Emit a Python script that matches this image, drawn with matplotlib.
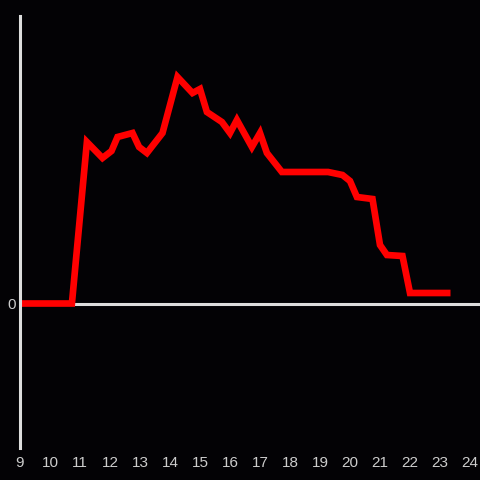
import matplotlib
matplotlib.use("Agg")
import matplotlib.pyplot as plt

plt.rcParams['font.family'] = ['Liberation Sans', 'DejaVu Sans']

# hours of the day and the level at each reading
hours = [9, 10.73, 11.23, 11.75, 12.05, 12.25, 12.75, 12.97, 13.23, 13.75,
         14.25, 14.75, 15.0, 15.23, 15.73, 16.0, 16.23, 16.73, 17.0, 17.23,
         17.73, 19.27, 19.75, 20.0, 20.23, 20.75, 21.0, 21.23, 21.75, 22.0, 23.35]
level = [0, 0, 161.5, 145.5, 152.5, 166.5, 170.5, 156.5, 150.5, 170.5,
         226.5, 210.5, 214.5, 191.5, 181.5, 170.5, 183.5, 156.5, 170.5, 150.5,
         131.5, 131.5, 128.5, 122.5, 106.5, 104.5, 58.5, 48.5, 47.5, 10.5, 10.5]
xticks = list(range(9, 25))

bg = '#030205'
axis_col = '#dddddd'

fig = plt.figure(figsize=(4.8, 4.8), dpi=100, facecolor=bg)
ax = fig.add_axes([20 / 480, 32 / 480, 460 / 480, 432 / 480], facecolor=bg)

ax.axhline(0, color=axis_col, lw=2.2, zorder=1)
ax.plot(hours, level, color='#ff0000', lw=4.8, zorder=2,
        solid_joinstyle='miter', solid_capstyle='butt')

ax.set_xlim(9, 9 + 460 / 30)
ax.set_ylim(-144.5, 287.5)

for s in ['top', 'right', 'bottom']:
    ax.spines[s].set_visible(False)
ax.spines['left'].set_color(axis_col)
ax.spines['left'].set_linewidth(2.2)
ax.spines['left'].set_zorder(3)

ax.set_xticks(xticks)
ax.set_xticklabels([str(t) for t in xticks])
ax.set_yticks([0])
ax.set_yticklabels(['0'])
ax.tick_params(axis='both', length=0, colors='#cccccc', labelsize=11)
ax.tick_params(axis='x', pad=6)
ax.tick_params(axis='y', pad=3)

fig.savefig('out.png', dpi=100, facecolor=bg)
